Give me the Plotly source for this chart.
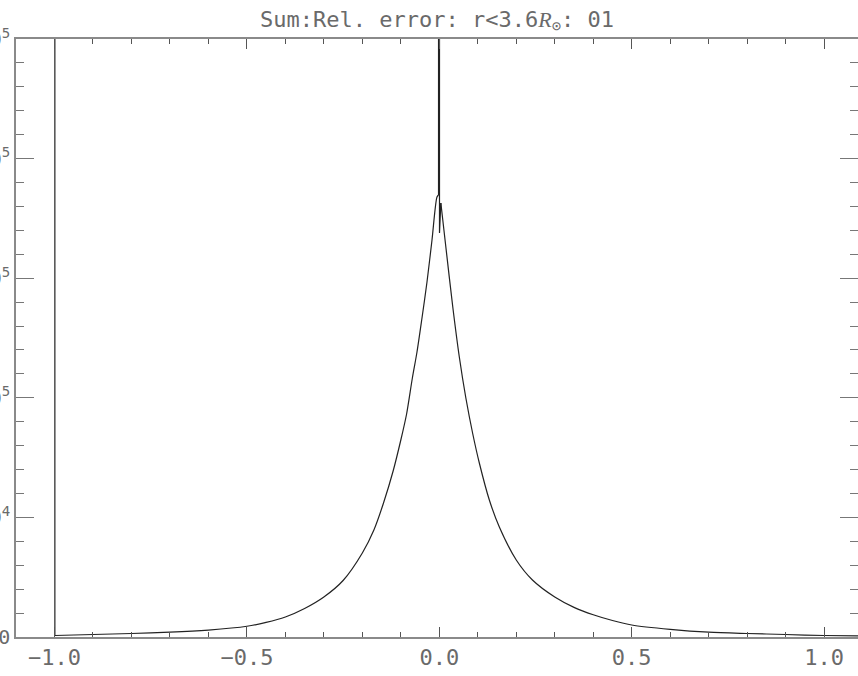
import plotly.graph_objects as go

# Data
x_vals = [-1.0, -0.999, -0.9, -0.8, -0.7, -0.6, -0.5, -0.45, -0.4, -0.35, -0.3, -0.25,
          -0.2, -0.17, -0.145, -0.12, -0.1, -0.085, -0.07, -0.058, -0.045, -0.032,
          -0.019, -0.006, -0.002, 0.0, 0.0005, 0.004, 0.017, 0.035, 0.052, 0.069,
          0.087, 0.104, 0.13, 0.156, 0.2, 0.242, 0.3, 0.35, 0.4, 0.45, 0.5, 0.6,
          0.7, 0.8, 0.9, 1.0, 1.1]
y_vals = [1.0e7, 627, 1045, 1463, 2000, 2900, 4500, 6100, 8361, 11915, 16722, 23620,
          35117, 44732, 56020, 69398, 82358, 93227, 108278, 119147, 133361, 148411,
          165970, 183946, 184783, 1.0e7, 168896, 181438, 163043, 137960, 117057, 99916,
          84866, 72742, 57274, 45987, 32191, 23829, 16722, 12400, 9300, 6900, 5017, 3200,
          2000, 1463, 1045, 627, 418]

x_tickvals = [-1.0, -0.5, 0.0, 0.5, 1.0]
x_ticktext = ["\u22121.0", "\u22120.5", "0.0", "0.5", "1.0"]
y_tickvals = [0, 5e4, 1e5, 1.5e5, 2e5, 2.5e5]
y_ticktext = ["0", "5\u00d710<sup>4</sup>", "1.0\u00d710<sup>5</sup>", "1.5\u00d710<sup>5</sup>",
              "2.0\u00d710<sup>5</sup>", "2.5\u00d710<sup>5</sup>"]

title_text = ("Sum:Rel. error: r<3.6<span style='font-family:Liberation Serif'><i>R</i></span>"
              "<sub>\u2299</sub>: 01")

axis_col = "#8a8a8a"
text_col = "#6a6a6a"
line_col = "#222222"
FONT = "DejaVu Sans Mono"

# split into smooth curve parts and the sharp spikes
i_spike0 = x_vals.index(0.0)
segments = [
    (0, 2, "linear"),                        # vertical line at x=-1
    (1, i_spike0, "spline"),                 # left branch
    (i_spike0 - 1, i_spike0 + 3, "linear"),  # spike at x=0
    (i_spike0 + 2, len(x_vals), "spline"),   # right branch
]

fig = go.Figure()
for a, b, shape in segments:
    fig.add_trace(go.Scatter(x=x_vals[a:b], y=y_vals[a:b], mode="lines",
                             line=dict(color=line_col, width=1.2, shape=shape,
                                       smoothing=0.8 if shape == "spline" else None),
                             showlegend=False, hoverinfo="skip"))

fig.update_layout(
    width=858, height=676,
    margin=dict(l=15.5, r=0, t=39, b=39),
    paper_bgcolor="white", plot_bgcolor="white",
    title=dict(text=title_text, x=0.5, xref="paper", xanchor="center",
               y=1 - 19/676, yanchor="middle",
               font=dict(family=FONT, size=22, color=text_col)),
    font=dict(family=FONT, size=22, color=text_col),
)
fig.update_xaxes(
    range=[-1.1, 1.088], showgrid=False, zeroline=False,
    showline=True, linecolor=axis_col, linewidth=1.5, mirror="ticks",
    ticks="inside", ticklen=10, tickcolor="#555555", tickwidth=1,
    tickvals=x_tickvals, ticktext=x_ticktext,
    tickfont=dict(family=FONT, size=22, color=text_col),
    minor=dict(dtick=0.1, tick0=0, ticks="inside", ticklen=5, tickcolor="#555555"),
    automargin=False,
)
fig.update_yaxes(
    range=[0, 2.5e5], showgrid=False, zeroline=False,
    showline=True, linecolor=axis_col, linewidth=1.5, mirror="ticks",
    ticks="inside", ticklen=18, tickcolor="#777777", tickwidth=1,
    tickvals=y_tickvals, ticktext=y_ticktext,
    tickfont=dict(family=FONT, size=20, color=text_col),
    minor=dict(dtick=1e4, tick0=0, ticks="inside", ticklen=8, tickcolor="#777777"),
    automargin=False,
)

fig.write_html("out.html")
